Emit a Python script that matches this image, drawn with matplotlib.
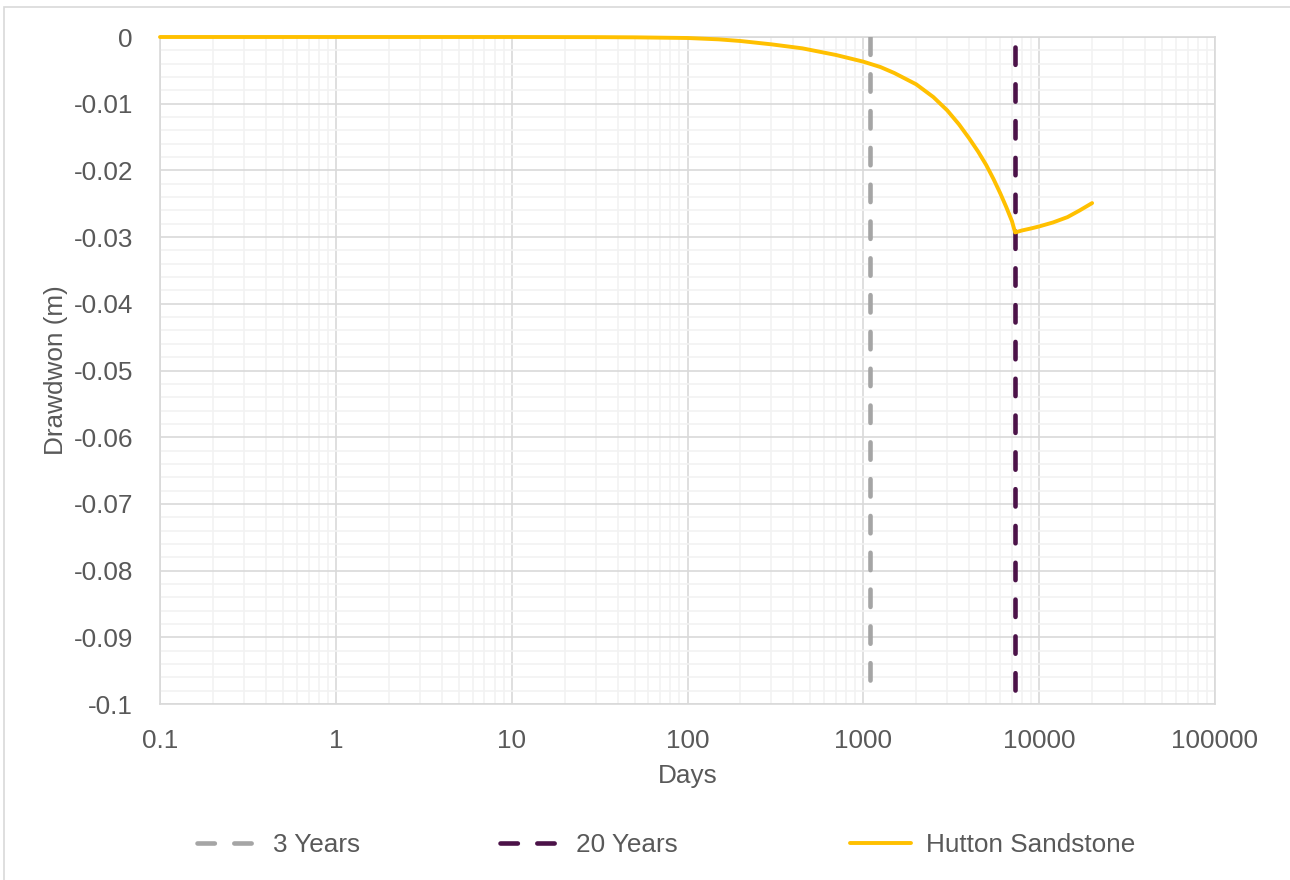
import matplotlib.pyplot as plt
import matplotlib.patches as mpatches
from matplotlib.ticker import LogLocator, MultipleLocator, FixedLocator, FixedFormatter

plt.rcParams['font.family'] = ['Liberation Sans', 'DejaVu Sans']
plt.rcParams['lines.scale_dashes'] = False

# drawdown curve (days, metres)
days = [0.1, 1, 10, 30, 50, 100, 150, 200, 300, 450, 700, 1000, 1250, 1500,
        2000, 2500, 3000, 3500, 4000, 4500, 5000, 5500, 6000, 6500, 7000, 7300,
        8000, 9000, 10000, 12000, 14500, 17000, 20000]
drawdown = [0.0, 0.0, 0.0, -0.00002, -0.00005, -0.00015, -0.00035, -0.0006,
            -0.0011, -0.0017, -0.0027, -0.0037, -0.0045, -0.0054, -0.0071,
            -0.0090, -0.0110, -0.0131, -0.0152, -0.0172, -0.0192, -0.0213,
            -0.0234, -0.0255, -0.0276, -0.0293, -0.0290, -0.0287, -0.0284,
            -0.0278, -0.0270, -0.0260, -0.0249]

# reference times
t_3yr = 3 * 365
t_20yr = 20 * 365

x_ticks = [0.1, 1, 10, 100, 1000, 10000, 100000]
x_labels = ['0.1', '1', '10', '100', '1000', '10000', '100000']
y_ticks = [0, -0.01, -0.02, -0.03, -0.04, -0.05, -0.06, -0.07, -0.08, -0.09, -0.1]
y_labels = ['0', '-0.01', '-0.02', '-0.03', '-0.04', '-0.05', '-0.06',
            '-0.07', '-0.08', '-0.09', '-0.1']

txt = '#595959'
fs = 18.8

W, H = 1290, 880
fig = plt.figure(figsize=(W / 100, H / 100), dpi=100)
ax = fig.add_axes([160 / W, 1 - 704 / H, (1215 - 160) / W, (704 - 37) / H])

ax.set_xscale('log')
ax.set_xlim(0.1, 100000)
ax.set_ylim(-0.1, 0)

dash = (0, (12.5, 14))
l3, = ax.plot([t_3yr, t_3yr], [0, -0.099], color='#A5A5A5', lw=3.3, ls=dash,
              dash_capstyle='round', label='3 Years', zorder=3)
l20, = ax.plot([t_20yr, t_20yr], [-0.0015, -0.1], color='#4B1248', lw=3.3, ls=dash,
               dash_capstyle='round', label='20 Years', zorder=3)
lh, = ax.plot(days, drawdown, color='#FFC000', lw=2.8, solid_capstyle='round',
              solid_joinstyle='round', label='Hutton Sandstone', zorder=4,
              clip_on=False)

ax.xaxis.set_major_locator(FixedLocator(x_ticks))
ax.xaxis.set_major_formatter(FixedFormatter(x_labels))
ax.xaxis.set_minor_locator(LogLocator(base=10, subs=range(2, 10), numticks=20))
ax.yaxis.set_major_locator(FixedLocator(y_ticks))
ax.yaxis.set_major_formatter(FixedFormatter(y_labels))
ax.yaxis.set_minor_locator(MultipleLocator(0.002))

ax.grid(which='major', color='#D9D9D9', lw=1.2)
ax.grid(which='minor', color='#F2F2F2', lw=1.2)
ax.set_axisbelow(True)
ax.tick_params(which='both', length=0, labelsize=fs, labelcolor=txt)
ax.tick_params(axis='x', pad=18)
ax.tick_params(axis='y', pad=19.5)
for s in ax.spines.values():
    s.set_color('#D9D9D9')
    s.set_linewidth(1.2)

ax.set_xlabel('Days', fontsize=fs, color=txt, labelpad=8)
ax.set_ylabel('Drawdwon (m)', fontsize=fs, color=txt, labelpad=4)

# legend entries laid out along the bottom
leg_y = 1 - 845 / H
for handle, x0 in [(l3, 197), (l20, 500), (lh, 850)]:
    leg = fig.legend(handles=[handle], loc='center left',
                     bbox_to_anchor=(x0 / W, leg_y), frameon=False, fontsize=fs,
                     labelcolor=txt, handlelength=2.35, handletextpad=0.55,
                     borderpad=0, borderaxespad=0)

# chart area border
fig.patches.append(mpatches.Rectangle((4 / W, -0.01), 1.1, 1 - 7 / H + 0.01,
                                      transform=fig.transFigure, fill=False,
                                      edgecolor='#D9D9D9', lw=1.2))

fig.savefig('out.png', dpi=100)
